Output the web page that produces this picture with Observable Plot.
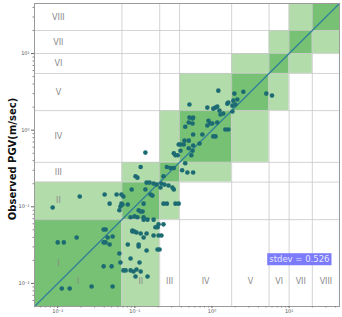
<!DOCTYPE html>
<html>
<head>
<meta charset="utf-8">
<script src="https://cdn.jsdelivr.net/npm/d3@7"></script>
<script src="https://cdn.jsdelivr.net/npm/@observablehq/plot@0.6"></script>
<style>
  html, body { margin: 0; padding: 0; background: #fff; }
  #chart { width: 342px; height: 317px; }
</style>
</head>
<body>
<div id="chart"></div>
<script>
// Intensity class edges (PGV, m/s) and names
const binEdges = [0.005, 0.068, 0.21, 0.38, 1.8, 5.5, 10, 20, 45];
const classes = ["I", "II", "III", "IV", "V", "VI", "VII", "VIII"];
const decadeTicks = [0.01, 0.1, 1, 10];
const yLabel = "Observed PGV(m/sec)";
const stdevLabel = "stdev = 0.526";

// Predicted (x) and observed (y) PGV, m/s
const predicted = [
  1.21, 1.95, 2.55, 5.06, 6.0, 0.51, 0.87, 1.04, 1.11, 1.17,
  1.58, 1.63, 1.89, 2.13, 1.84, 2.01, 1.29, 1.40, 1.25, 1.84,
  0.51, 0.56, 0.57, 0.50, 0.56, 0.90, 0.95, 1.01, 0.87, 0.45,
  1.17, 0.57, 0.75, 1.04, 1.11, 1.49, 1.63, 0.44, 0.50, 0.37,
  0.39, 0.43, 0.57, 0.69, 0.50, 0.56, 0.32, 0.36, 0.39, 0.54,
  0.137, 0.45, 0.41, 0.48, 0.57, 0.29, 0.32, 0.26, 0.119, 0.108,
  0.102, 0.235, 0.142, 0.155, 0.175, 0.191, 0.221, 0.242, 0.273, 0.307,
  0.32, 0.215, 0.091, 0.137, 0.160, 0.169, 0.336, 0.235, 0.26, 0.37,
  0.130, 0.0193, 0.0086, 0.0406, 0.0471, 0.058, 0.067, 0.071, 0.067, 0.065,
  0.063, 0.112, 0.088, 0.108, 0.130, 0.0100, 0.0120, 0.0176, 0.0394, 0.0418,
  0.0444, 0.0515, 0.0394, 0.0418, 0.0471, 0.063, 0.065, 0.0394, 0.0500, 0.076,
  0.088, 0.096, 0.071, 0.081, 0.093, 0.105, 0.119, 0.088, 0.115, 0.112,
  0.130, 0.0113, 0.0143, 0.0275, 0.0515, 0.102, 0.069, 0.081, 0.119, 0.126,
  0.099, 0.130, 0.146, 0.175, 0.203, 0.235, 0.185, 0.197, 0.093, 0.099,
  0.142, 0.203, 0.221, 0.175, 0.112, 0.197, 0.209, 0.142, 0.146, 0.119,
  0.105, 0.336
];
const observed = [
  3.28, 3.0, 3.18, 3.0, 2.83, 2.16, 1.97, 1.91, 1.97, 2.03,
  2.22, 2.29, 2.43, 2.51, 2.09, 2.16, 1.60, 1.65, 1.80, 1.75,
  1.46, 1.42, 1.46, 1.26, 1.22, 1.33, 1.22, 1.22, 1.15, 1.11,
  1.26, 0.88, 0.88, 0.83, 0.83, 1.02, 1.02, 0.73, 0.73, 0.65,
  0.65, 0.65, 0.63, 0.67, 0.58, 0.54, 0.50, 0.47, 0.54, 0.47,
  0.51, 0.37, 0.30, 0.28, 0.28, 0.32, 0.32, 0.33, 0.33, 0.24,
  0.25, 0.25, 0.207, 0.207, 0.201, 0.195, 0.201, 0.195, 0.190, 0.179,
  0.168, 0.179, 0.168, 0.168, 0.145, 0.140, 0.110, 0.110, 0.110, 0.110,
  0.110, 0.136, 0.098, 0.145, 0.110, 0.145, 0.145, 0.136, 0.110, 0.101,
  0.090, 0.090, 0.073, 0.073, 0.073, 0.0343, 0.0343, 0.0398, 0.0506, 0.0506,
  0.0398, 0.0410, 0.0343, 0.0343, 0.0322, 0.0246, 0.0188, 0.0167, 0.0167, 0.0148,
  0.0148, 0.0143, 0.0148, 0.0322, 0.0476, 0.0462, 0.0449, 0.0212, 0.0188, 0.0322,
  0.0398, 0.0086, 0.0086, 0.0091, 0.0091, 0.0123, 0.107, 0.107, 0.087, 0.087,
  0.075, 0.068, 0.068, 0.068, 0.059, 0.059, 0.054, 0.054, 0.049, 0.0476,
  0.0449, 0.0423, 0.0423, 0.0423, 0.0303, 0.0277, 0.0277, 0.0269, 0.0123, 0.0143,
  0.0152, 0.47
];

const points = predicted.map((p, i) => ({p, o: observed[i]}));

// Cells: diagonal (dark) and neighbours (light)
const cells = [];
for (let i = 0; i < classes.length; i++) {
  for (let j = 0; j < classes.length; j++) {
    if (Math.abs(i - j) <= 1) {
      cells.push({x1: binEdges[j], x2: binEdges[j + 1], y1: binEdges[i], y2: binEdges[i + 1], diag: i === j});
    }
  }
}
const centers = classes.map((c, i) => ({c, m: Math.sqrt(binEdges[i] * binEdges[i + 1])}));
const innerEdges = binEdges.slice(1, -1);
const domain = [binEdges[0], binEdges[binEdges.length - 1]];
const minorTicks = [];
for (const d of [0.001, 0.01, 0.1, 1, 10]) for (let k = 2; k <= 9; k++) {
  const v = d * k; if (v > domain[0] && v < domain[1]) minorTicks.push(v);
}
const sup = {"-": "\u207B", "0": "\u2070", "1": "\u00B9", "2": "\u00B2", "3": "\u00B3"};
const fmt = v => "10" + String(Math.round(Math.log10(v))).split("").map(ch => sup[ch] || ch).join("");

const lightC = "#b3dcab";
const darkC = "#76c174";
const dotC = "#1d6b72";
const lineC = "#2f7f9a";
const labC = "#8a8a8a";

const chart = Plot.plot({
  width: 342,
  height: 317,
  marginLeft: 34,
  marginRight: 3,
  marginTop: 3,
  marginBottom: 11,
  style: {fontFamily: "DejaVu Sans, sans-serif", background: "#fff"},
  x: {type: "log", domain},
  y: {type: "log", domain},
  marks: [
    Plot.rect(cells, {x1: "x1", x2: "x2", y1: "y1", y2: "y2", fill: d => d.diag ? darkC : lightC}),
    Plot.gridX(innerEdges, {stroke: "#c8c8c8", strokeOpacity: 0.8}),
    Plot.gridY(innerEdges, {stroke: "#c8c8c8", strokeOpacity: 0.8}),
    Plot.text(centers, {x: d => d.m, y: 0.0107, text: "c", fill: labC, fontSize: 8}),
    Plot.text(centers, {x: 0.0102, y: d => d.m, text: "c", fill: labC, fontSize: 8}),
    Plot.line(domain.map(v => ({v})), {x: "v", y: "v", stroke: lineC, strokeWidth: 1.2}),
    Plot.dot(points, {x: "p", y: "o", r: 2.3, fill: dotC, stroke: "none"}),
    Plot.frame({stroke: "#9a9a9a"}),
    Plot.axisX(decadeTicks, {tickFormat: fmt, tickSize: 2, tickPadding: 1, fontSize: 5, label: null, stroke: "#666", fill: "#555"}),
    Plot.axisX(minorTicks, {tickFormat: () => "", tickSize: 1.5, label: null, stroke: "#888"}),
    Plot.axisY(decadeTicks, {tickFormat: fmt, tickSize: 3, tickPadding: 2, fontSize: 5, label: null, stroke: "#666", fill: "#555"}),
    Plot.axisY(minorTicks, {tickFormat: () => "", tickSize: 1.5, label: null, stroke: "#888"}),
    Plot.text([yLabel], {frameAnchor: "left", rotate: -90, dx: -22, dy: 4, fontSize: 10, fontWeight: "bold", fill: "#111", textAnchor: "middle", lineAnchor: "middle"}),
    Plot.text([stdevLabel], {frameAnchor: "bottom-right", dx: -10, dy: -47, fontSize: 8.5, fill: "#e6e6ff", textAnchor: "end", lineAnchor: "middle"})
  ]
});
document.getElementById("chart").appendChild(chart);

// Background box for the stdev annotation
for (const t of chart.querySelectorAll("text")) {
  if (t.textContent === stdevLabel) {
    const b = t.getBBox();
    const r = document.createElementNS("http://www.w3.org/2000/svg", "rect");
    r.setAttribute("x", b.x - 2);
    r.setAttribute("y", b.y - 1);
    r.setAttribute("width", b.width + 4);
    r.setAttribute("height", b.height + 2);
    r.setAttribute("fill", "#7c7cfa");
    if (t.getAttribute("transform")) r.setAttribute("transform", t.getAttribute("transform"));
    t.parentNode.insertBefore(r, t);
  }
}
</script>
</body>
</html>
